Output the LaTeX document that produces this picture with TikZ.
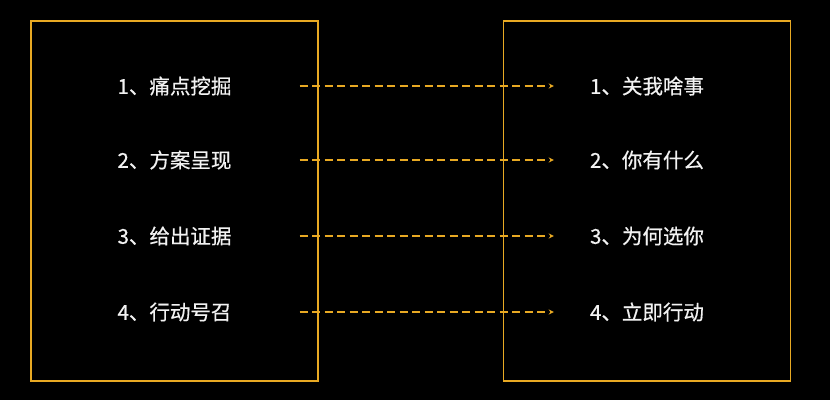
\documentclass[tikz,border=0pt]{standalone}
\usepackage{fontspec}
\newfontfamily\cjk[FakeBold=0.5]{Noto Sans CJK SC}
\definecolor{gold}{HTML}{E8A923}
\definecolor{paper}{HTML}{F2F2F2}

\begin{document}
\begin{tikzpicture}[x=1pt, y=-1pt,
        panel/.style={draw=gold, line width=1.8pt, rectangle, minimum width=287pt, minimum height=360pt, inner sep=0pt},
        item/.style={text=paper, font=\cjk\fontsize{20.5}{20.5}\selectfont, inner sep=3pt},
        arrow/.style={->, >=stealth, gold, line width=1.3pt, dash pattern=on 8pt off 4.5pt, shorten <=65pt, shorten >=33pt}
    ]

    % --- Background ---
    \fill[black] (0, 0) rectangle (830, 400);

    % --- Boxes ---
    \node[panel] (leftbox) at (174.5, 201) {};
    \node[panel] (rightbox) at (647, 201) {};

    % --- Left items ---
    \node[item] (pain) at (174.5, 86) {1、痛点挖掘};
    \node[item] (plan) at (174.5, 160) {2、方案呈现};
    \node[item] (proof) at (174.5, 236) {3、给出证据};
    \node[item] (call) at (174.5, 312) {4、行动号召};

    % --- Right items ---
    \node[item] (care) at (647, 86) {1、关我啥事};
    \node[item] (offer) at (647, 160) {2、你有什么};
    \node[item] (why) at (647, 236) {3、为何选你};
    \node[item] (act) at (647, 312) {4、立即行动};

    % --- Arrows ---
    \draw[arrow] (pain) -- (care);
    \draw[arrow] (plan) -- (offer);
    \draw[arrow] (proof) -- (why);
    \draw[arrow] (call) -- (act);

\end{tikzpicture}
\end{document}
